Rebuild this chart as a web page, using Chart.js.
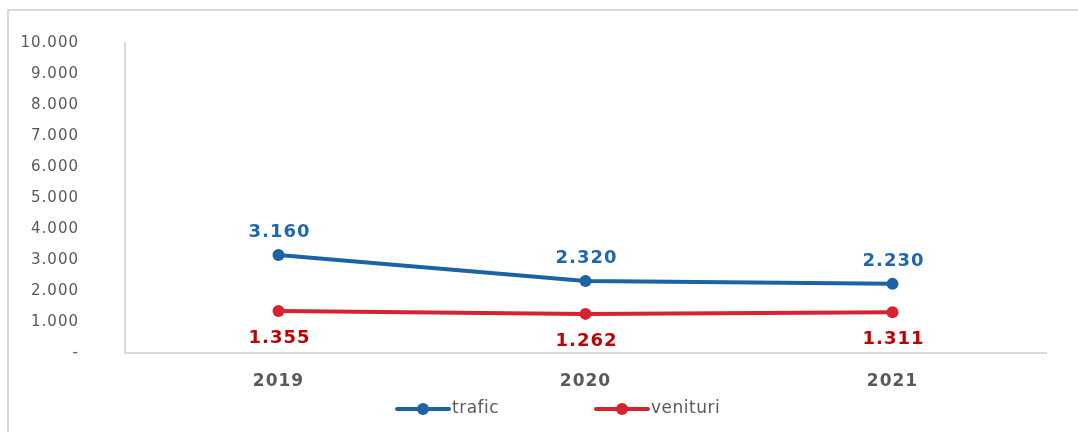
<!DOCTYPE html>
<html>
<head>
<meta charset="utf-8">
<script src="https://cdn.jsdelivr.net/npm/chart.js@4.4.0/dist/chart.umd.min.js"></script>
<style>
  html, body { margin: 0; padding: 0; background: #fff; overflow: hidden; }
  #wrap { position: relative; width: 1078px; height: 432px; }
  #frame { position: absolute; left: 7px; top: 9px; width: 1071px; height: 423px; border-top: 2px solid #d9d9d9; border-left: 2px solid #d9d9d9; box-sizing: border-box; }
  canvas { position: absolute; left: 0; top: 0; }
</style>
</head>
<body>
<div id="wrap">
  <div id="frame"></div>
  <canvas id="grafic" width="1078" height="432"></canvas>
</div>
<script>
const years = ['2019', '2020', '2021']
const trafic = [3160, 2320, 2230]
const venituri = [1355, 1262, 1311]
const yTicks = [0, 1000, 2000, 3000, 4000, 5000, 6000, 7000, 8000, 9000, 10000]

const blue = '#1c62a4'
const red = '#d82232'
const grey = '#595959'

const fmt = v => v === 0 ? '-' : String(v).replace(/\B(?=(\d{3})+(?!\d))/g, '.')

// textul din original e mai lat, il imitam cu putina spatiere intre litere
const spacing = {
  id: 'spacing',
  beforeLayout(chart) { chart.ctx.letterSpacing = '1px' },
  beforeDraw(chart) { chart.ctx.letterSpacing = '1px' }
}

// etichetele cu valori, deasupra / dedesubt de puncte
const valueLabels = {
  id: 'valueLabels',
  afterDatasetsDraw(chart) {
    const ctx = chart.ctx
    ctx.save()
    ctx.letterSpacing = '1px'
    ctx.font = 'bold 18px "DejaVu Sans"'
    ctx.textAlign = 'center'
    ctx.textBaseline = 'middle'
    chart.data.datasets.forEach((ds, i) => {
      const meta = chart.getDatasetMeta(i)
      meta.data.forEach((pt, j) => {
        ctx.fillStyle = ds.labelColor
        ctx.fillText(fmt(ds.data[j]), pt.x + 1, pt.y + ds.labelOffset)
      })
    })
    ctx.restore()
  }
}

// legenda: linie cu cerc la mijloc
const lineLegend = {
  id: 'lineLegend',
  afterDraw(chart) {
    const ctx = chart.ctx
    ctx.save()
    ctx.letterSpacing = '0.5px'
    ctx.font = '17px "DejaVu Sans"'
    ctx.textBaseline = 'middle'
    const y = 409
    let x = 397
    chart.data.datasets.forEach(ds => {
      ctx.strokeStyle = ds.borderColor
      ctx.fillStyle = ds.borderColor
      ctx.lineWidth = 4
      ctx.lineCap = 'round'
      ctx.beginPath()
      ctx.moveTo(x, y)
      ctx.lineTo(x + 52, y)
      ctx.stroke()
      ctx.beginPath()
      ctx.arc(x + 26, y, 6, 0, Math.PI * 2)
      ctx.fill()
      ctx.fillStyle = grey
      ctx.fillText(ds.label, x + 55, y)
      x += 199
    })
    ctx.restore()
  }
}

const ctx = document.getElementById('grafic').getContext('2d')

const myChart = new Chart(ctx, {
  type: 'line',
  data: {
    labels: years,
    datasets: [{
      label: 'trafic',
      data: trafic,
      borderColor: blue,
      backgroundColor: blue,
      borderWidth: 4,
      pointRadius: 6,
      pointBorderWidth: 0,
      pointHoverRadius: 6,
      tension: 0,
      labelColor: '#1f67ad',
      labelOffset: -23
    },
    {
      label: 'venituri',
      data: venituri,
      borderColor: red,
      backgroundColor: red,
      borderWidth: 4,
      pointRadius: 6,
      pointBorderWidth: 0,
      pointHoverRadius: 6,
      tension: 0,
      labelColor: '#c00000',
      labelOffset: 27
    }]
  },
  options: {
    responsive: false,
    animation: false,
    layout: { padding: { top: 43, right: 32, left: 0, bottom: 0 } },
    plugins: {
      legend: { display: false },
      tooltip: { enabled: false }
    },
    scales: {
      x: {
        offset: true,
        grid: { display: true, color: 'transparent', drawTicks: false },
        border: { display: true, color: '#d9d9d9', width: 2 },
        ticks: { color: grey, padding: 18, font: { family: 'DejaVu Sans', size: 17, weight: 'bold' } },
        afterFit: s => { s.height = 79 }
      },
      y: {
        min: 0,
        max: 10000,
        afterBuildTicks: s => { s.ticks = yTicks.map(v => ({ value: v })) },
        grid: { display: true, color: 'transparent', drawTicks: false },
        border: { display: true, color: '#d9d9d9', width: 2 },
        ticks: { color: grey, padding: 46, callback: v => fmt(v), font: { family: 'DejaVu Sans', size: 15 } },
        afterFit: s => {
          s.width = 125
          s.paddingTop = 0
          s.paddingBottom = 0
        }
      }
    }
  },
  plugins: [spacing, valueLabels, lineLegend]
})
</script>
</body>
</html>
